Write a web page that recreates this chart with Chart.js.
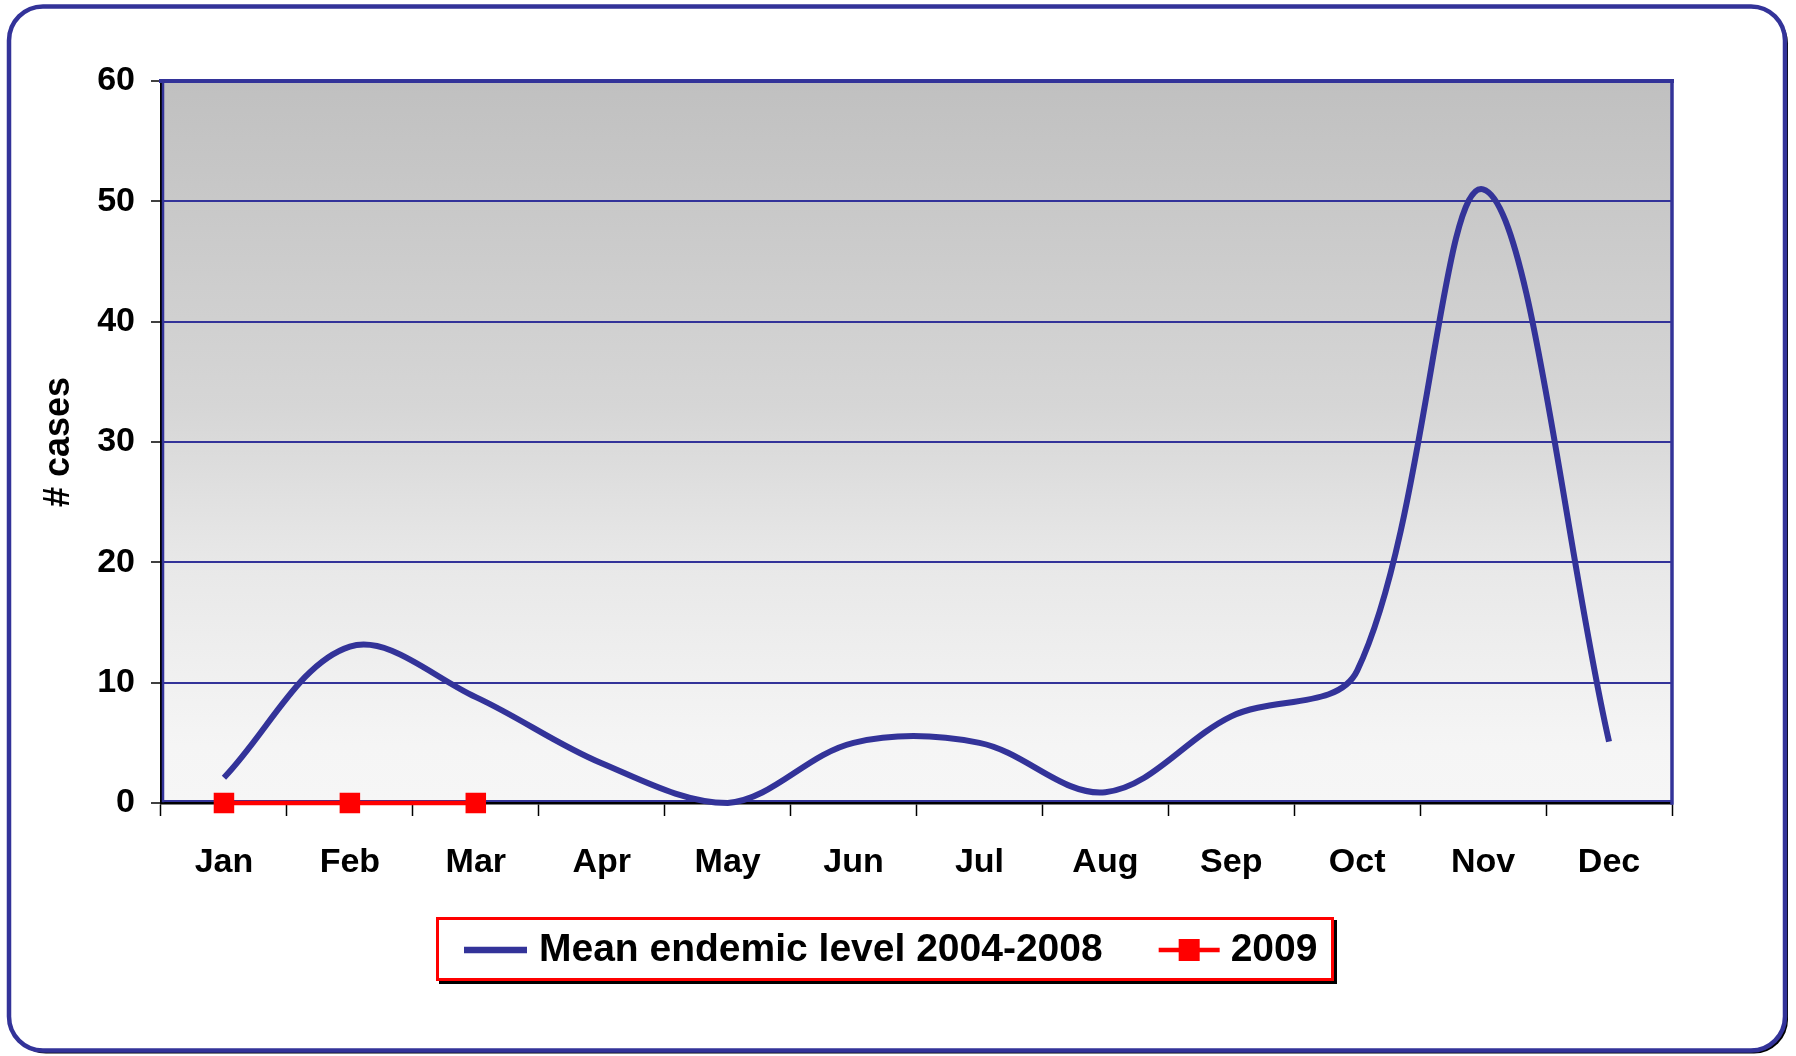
<!DOCTYPE html>
<html>
<head>
<meta charset="utf-8">
<script src="https://cdn.jsdelivr.net/npm/chart.js@4/dist/chart.umd.min.js"></script>
<style>
html,body{margin:0;padding:0;background:#fff;overflow:hidden}
#wrap{position:relative;width:1796px;height:1056px}
</style>
</head>
<body>
<div id="wrap"><canvas id="c" width="1796" height="1056"></canvas></div>
<script>
// ---- data ----
const months = ['Jan','Feb','Mar','Apr','May','Jun','Jul','Aug','Sep','Oct','Nov','Dec'];
const meanLevel = [2.1, 13.0, 8.8, 3.3, 0.0, 5.0, 5.0, 0.9, 7.2, 11.0, 51.0, 5.1];
const cases2009 = [0, 0, 0];
const seriesNames = ['Mean endemic level 2004-2008', '2009'];
const yMin = 0, yMax = 60, yStep = 10;
const yTitle = '# cases';

const NAVY = '#333399', RED = '#ff0000';
const FONT = '"Liberation Sans", Arial, sans-serif';

// detect a condensed face for axis text
function hasFont(name) {
  const c = document.createElement('canvas').getContext('2d');
  c.font = '40px monospace';
  const w0 = c.measureText('abcdefghijMW0123').width;
  c.font = '40px "' + name + '", monospace';
  return c.measureText('abcdefghijMW0123').width !== w0;
}
const narrow = hasFont('Liberation Sans Narrow');
const AXFONT = narrow ? '"Liberation Sans Narrow", "Liberation Sans", Arial, sans-serif' : FONT;
const tickSize = narrow ? 39 : 34;
const titleSize = narrow ? 44 : 36;

function rr(ctx, x, y, w, h, r) {
  ctx.beginPath();
  ctx.moveTo(x + r, y);
  ctx.lineTo(x + w - r, y);
  ctx.arcTo(x + w, y, x + w, y + r, r);
  ctx.lineTo(x + w, y + h - r);
  ctx.arcTo(x + w, y + h, x + w - r, y + h, r);
  ctx.lineTo(x + r, y + h);
  ctx.arcTo(x, y + h, x, y + h - r, r);
  ctx.lineTo(x, y + r);
  ctx.arcTo(x, y, x + r, y, r);
  ctx.closePath();
}

const decor = {
  id: 'decor',
  beforeDraw(chart) {
    const ctx = chart.ctx, a = chart.chartArea;
    ctx.save();
    ctx.fillStyle = '#fff';
    ctx.fillRect(0, 0, chart.width, chart.height);
    rr(ctx, 12, 9.5, 1776, 1044, 34);
    ctx.fillStyle = '#000'; ctx.fill();
    rr(ctx, 9, 6.5, 1776, 1044, 34);
    ctx.fillStyle = '#fff'; ctx.fill();
    ctx.lineWidth = 4.5; ctx.strokeStyle = NAVY; ctx.stroke();
    const g = ctx.createLinearGradient(0, a.top, 0, a.bottom);
    g.addColorStop(0, '#c0c0c0');
    g.addColorStop(0.45, '#d6d6d6');
    g.addColorStop(0.667, '#e8e8e8');
    g.addColorStop(0.92, '#f5f5f5');
    g.addColorStop(1, '#f6f6f6');
    ctx.fillStyle = g;
    ctx.fillRect(a.left, a.top, a.right - a.left, a.bottom - a.top);
    ctx.restore();
  },
  beforeDatasetsDraw(chart) {
    const ctx = chart.ctx, a = chart.chartArea;
    ctx.save();
    ctx.strokeStyle = NAVY;
    ctx.lineCap = 'square';
    ctx.lineWidth = 4;
    ctx.beginPath(); ctx.moveTo(a.left, a.top); ctx.lineTo(a.right, a.top); ctx.stroke();
    ctx.lineWidth = 3.5;
    ctx.beginPath(); ctx.moveTo(a.right, a.top); ctx.lineTo(a.right, a.bottom); ctx.stroke();
    ctx.lineWidth = 2.5;
    ctx.beginPath(); ctx.moveTo(a.left + 2, a.top); ctx.lineTo(a.left + 2, a.bottom - 2); ctx.stroke();
    ctx.lineWidth = 2;
    ctx.beginPath(); ctx.moveTo(a.left + 2, a.bottom - 2); ctx.lineTo(a.right, a.bottom - 2); ctx.stroke();
    ctx.restore();
  },
  afterDraw(chart) {
    const ctx = chart.ctx;
    ctx.save();
    const bx = 436, by = 917, bw = 898, bh = 64;
    ctx.fillStyle = '#000'; ctx.fillRect(bx + 3, by + 3, bw, bh);
    ctx.fillStyle = '#fff'; ctx.fillRect(bx, by, bw, bh);
    ctx.strokeStyle = RED; ctx.lineWidth = 3;
    ctx.strokeRect(bx + 1.5, by + 1.5, bw - 3, bh - 3);
    const cy = 950;
    ctx.font = 'bold 39px ' + FONT;
    ctx.textBaseline = 'middle';
    ctx.textAlign = 'left';
    ctx.strokeStyle = NAVY; ctx.lineWidth = 6.5; ctx.lineCap = 'butt';
    ctx.beginPath(); ctx.moveTo(464, cy); ctx.lineTo(527, cy); ctx.stroke();
    ctx.fillStyle = '#000';
    ctx.fillText(seriesNames[0], 539, cy);
    const w1 = ctx.measureText(seriesNames[0]).width;
    const x2 = 539 + w1 + 56;
    ctx.strokeStyle = RED; ctx.lineWidth = 4.5;
    ctx.beginPath(); ctx.moveTo(x2, cy); ctx.lineTo(x2 + 61, cy); ctx.stroke();
    ctx.fillStyle = RED;
    ctx.fillRect(x2 + 30.5 - 10.5, cy - 11, 21, 22);
    ctx.fillStyle = '#000';
    ctx.fillText(seriesNames[1], x2 + 72, cy);
    ctx.restore();
  }
};

new Chart(document.getElementById('c'), {
  type: 'line',
  data: {
    labels: months,
    datasets: [
      {
        label: seriesNames[1],
        data: cases2009,
        borderColor: RED,
        backgroundColor: RED,
        borderWidth: 4.5,
        pointStyle: 'rect',
        pointRadius: 14.5,
        pointBorderWidth: 0,
        pointBackgroundColor: RED,
        tension: 0,
        clip: false,
        order: 0
      },
      {
        label: seriesNames[0],
        data: meanLevel,
        borderColor: NAVY,
        borderWidth: 6,
        pointRadius: 0,
        tension: 0.35,
        fill: false,
        clip: false,
        borderJoinStyle: 'round',
        order: 1
      }
    ]
  },
  options: {
    responsive: false,
    devicePixelRatio: 1,
    animation: false,
    events: [],
    layout: { padding: { left: 0, right: 124, top: 81, bottom: 163 } },
    plugins: { legend: { display: false }, tooltip: { enabled: false } },
    scales: {
      x: {
        type: 'category',
        offset: true,
        grid: { offset: true, drawOnChartArea: false, drawTicks: true, tickLength: 13, tickColor: '#000', tickWidth: 1.5 },
        border: { display: true, color: '#000', width: 2.5 },
        ticks: { color: '#000', font: { family: AXFONT, size: tickSize, weight: 'bold' }, padding: narrow ? 23 : 26, maxRotation: 0, autoSkip: false },
        afterFit(s) { s.height = 90; }
      },
      y: {
        min: yMin, max: yMax,
        ticks: { stepSize: yStep, color: '#000', font: { family: AXFONT, size: tickSize, weight: 'bold' }, padding: 16 },
        grid: { color: NAVY, lineWidth: 2, tickLength: 10, tickColor: '#000', tickWidth: 1.5 },
        border: { display: true, color: '#000', width: 2 },
        title: { display: true, text: yTitle, color: '#000', font: { family: AXFONT, size: titleSize, weight: 'bold' }, padding: { top: narrow ? 33 : 37, bottom: 0 } },
        afterFit(s) { s.width = 161; }
      }
    }
  },
  plugins: [decor]
});
</script>
</body>
</html>
